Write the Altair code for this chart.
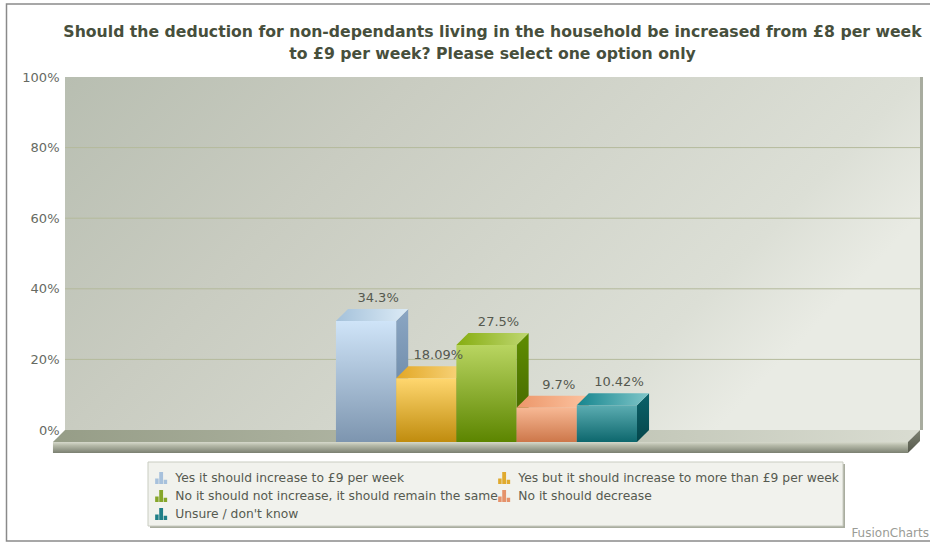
import altair as alt

# Survey answers and their shares (percent)
answers = [
    "Yes it should increase to £9 per week",
    "Yes but it should increase to more than £9 per week",
    "No it should not increase, it should remain the same",
    "No it should decrease",
    "Unsure / don't know",
]
shares = [34.3, 18.09, 27.5, 9.7, 10.42]
tick_values = [0, 20, 40, 60, 80, 100]
grid_values = [20, 40, 60, 80]
title_lines = [
    "Should the deduction for non-dependants living in the household be increased from £8 per week",
    "to £9 per week? Please select one option only",
]

# Shading per answer: front top/bottom, top-face left/right, side top/bottom, legend swatch
front_shades = [("#cfe4f8", "#7d95af"), ("#ffd76f", "#c08c0e"), ("#b9d561", "#5c8500"),
                ("#f7b894", "#cd774a"), ("#5cadb2", "#0d676d")]
top_shades = [("#a4c1da", "#dcebf6"), ("#e2a725", "#fad884"), ("#86ad10", "#bfd772"),
              ("#ec9669", "#fcc3a0"), ("#15858e", "#80c6c9")]
side_shades = [("#8ba6c3", "#5d7b9a"), ("#b98a1c", "#8f6a10"), ("#5f8d00", "#3f5f00"),
               ("#c77a50", "#9c5c38"), ("#0b626a", "#05464b")]
swatches = ["#a7c1dc", "#e0aa2e", "#86a62a", "#e5926a", "#1f7f87"]

# Extents of the back wall and the depth of the pseudo-3D extrusion, in axis units
X_MIN, X_MAX = -4.7, 9.5
DX, DY = 0.2, 3.4
BASE_H = 3.1
FONT = "DejaVu Sans"

x_scale = alt.Scale(domain=[X_MIN, X_MAX], nice=False, zero=False)
y_scale = alt.Scale(domain=[0, 100], nice=False, zero=False)
y_axis = alt.Axis(values=tick_values, labelExpr="datum.value + '%'", domain=False, ticks=False, grid=False,
                  labelPadding=6, labelFont=FONT, labelFontSize=13, labelColor="#666a62", title=None)


def X(name="x"):
    return alt.X(f"{name}:Q", scale=x_scale, axis=None, title=None)


def Y(name="y"):
    return alt.Y(f"{name}:Q", scale=y_scale, axis=y_axis, title=None)


def gradient(colors, offsets, x2=0, y2=1):
    stops = [alt.GradientStop(color=c, offset=o) for c, o in zip(colors, offsets)]
    return alt.LinearGradient(gradient="linear", stops=stops, x1=0, y1=0, x2=x2, y2=y2)


def vgrad(a, b):
    return gradient([a, b], [0, 1])


def hgrad(a, b):
    return gradient([a, b], [0, 1], x2=1, y2=0)


def slab(x0, x1, y0, y1, fill):
    """Flat rectangle in axis units."""
    return alt.Chart(alt.Data(values=[{"x": x0, "x2": x1, "y": y0, "y2": y1}])).mark_rect(color=fill).encode(
        x=X(), x2="x2:Q", y=Y(), y2="y2:Q")


def top_face(x0, x1, y, fill):
    """Receding horizontal face: front edge at y - DY, back edge at y."""
    rows = [{"x": x0 - DX, "x2": x1 - DX, "y": y - DY}, {"x": x0, "x2": x1, "y": y}]
    return alt.Chart(alt.Data(values=rows)).mark_area(orient="horizontal", color=fill).encode(
        x=X(), x2="x2:Q", y=Y())


def side_face(x, y_top, y_bottom, fill):
    """Receding vertical face on the right of a block."""
    rows = [{"x": x - DX, "y": y_top - DY, "y2": y_bottom - DY}, {"x": x, "y": y_top, "y2": y_bottom}]
    return alt.Chart(alt.Data(values=rows)).mark_area(orient="vertical", color=fill).encode(
        x=X(), y=Y(), y2="y2:Q")


# Back wall with its thin right-hand edge
wall = slab(X_MIN, X_MAX, 0, 100,
            gradient(["#b8beb1", "#c9ccc1", "#dcdfd6", "#e9ebe4"], [0, 0.35, 0.86, 1], x2=1, y2=0.4))
wall_edge = slab(X_MAX, X_MAX + 0.05, 0, 100, "#a8ac9f")

grid = alt.Chart(alt.Data(values=[{"y": v} for v in grid_values])).mark_rule(
    color="#b4ba9c", strokeWidth=1).encode(y=Y())

layers = [wall, wall_edge, grid]

# Floor slab in front of the wall
layers += [
    top_face(X_MIN, X_MAX, 0, hgrad("#969d87", "#d9dcd1")),
    slab(X_MIN - DX, X_MAX - DX, -DY - BASE_H, -DY,
         gradient(["#d6d9cc", "#b7bbaa", "#7b8071"], [0, 0.3, 1])),
    side_face(X_MAX, 0, -BASE_H, vgrad("#7c8071", "#56594c")),
]

# One extruded column per answer, left to right so each overlaps its neighbour's side
for i, v in enumerate(shares):
    layers += [
        side_face(i + 1, v, 0, vgrad(*side_shades[i])),
        top_face(i, i + 1, v, hgrad(*top_shades[i])),
        slab(i - DX, i + 1 - DX, -DY, v - DY, vgrad(*front_shades[i])),
    ]

# Value labels above each column
label_rows = [{"x": i + 0.5, "y": v, "label": f"{v}%"} for i, v in enumerate(shares)]
labels = alt.Chart(alt.Data(values=label_rows)).mark_text(
    font=FONT, fontSize=13, color="#55594f", baseline="bottom", dy=-4).encode(
    x=X(), y=Y(), text="label:N")
layers.append(labels)

# Legend panel with a soft shadow behind it
one = alt.Data(values=[{"k": 1}])
panel_shadow = alt.Chart(one).mark_rect(color="#a9ad9f").encode(
    x=alt.value(85), x2=alt.value(780), y=alt.value(387), y2=alt.value(451))
panel = alt.Chart(one).mark_rect(color="#f1f2ed", stroke="#c9ccc1", strokeWidth=1).encode(
    x=alt.value(83), x2=alt.value(778), y=alt.value(385), y2=alt.value(449))
layers += [panel_shadow, panel]

# Invisible points that feed the legend
bar_icon = "M-1,1V0.1H-0.42V1Z M-0.32,1V-1H0.32V1Z M0.42,1V0.3H1V1Z"
legend_rows = [{"answer": a, "x": i + 0.5, "y": v} for i, (a, v) in enumerate(zip(answers, shares))]
legend_feed = alt.Chart(alt.Data(values=legend_rows)).mark_point(filled=True, opacity=0).encode(
    x=X(), y=Y(),
    color=alt.Color("answer:N", scale=alt.Scale(domain=answers, range=swatches), sort=answers,
                    legend=alt.Legend(
                        title=None, orient="none", legendX=90, legendY=392, direction="horizontal", columns=2,
                        columnPadding=0, rowPadding=0, clipHeight=18, symbolType=bar_icon, symbolSize=144,
                        symbolOpacity=1, symbolStrokeWidth=0, labelFont=FONT, labelFontSize=12.3,
                        labelColor="#565a50", labelOffset=8, labelLimit=400)),
)
layers.append(legend_feed)

# Outer frame and the vendor credit
frame = alt.Chart(one).mark_rect(fill="transparent", stroke="#8a8a8a", strokeWidth=1.5).encode(
    x=alt.value(-58.5), x2=alt.value(880), y=alt.value(-73), y2=alt.value(464))
credit = alt.Chart(alt.Data(values=[{"t": "FusionCharts"}])).mark_text(
    font=FONT, fontSize=12, color="#9a9c96", align="right", baseline="middle").encode(
    x=alt.value(864), y=alt.value(456), text="t:N")
layers += [frame, credit]

chart = alt.layer(*layers).properties(
    width=855,
    height=353,
    padding={"left": 65, "top": 77, "right": 10, "bottom": 112},
    autosize=alt.AutoSizeParams(type="none"),
    title=alt.TitleParams(text=title_lines, font=FONT, fontSize=15.7, fontWeight="bold", color="#474f3c",
                          anchor="middle", lineHeight=22, offset=-59),
).configure_view(stroke=None)

chart.save("out.html", embed_options={"renderer": "svg", "actions": False})
